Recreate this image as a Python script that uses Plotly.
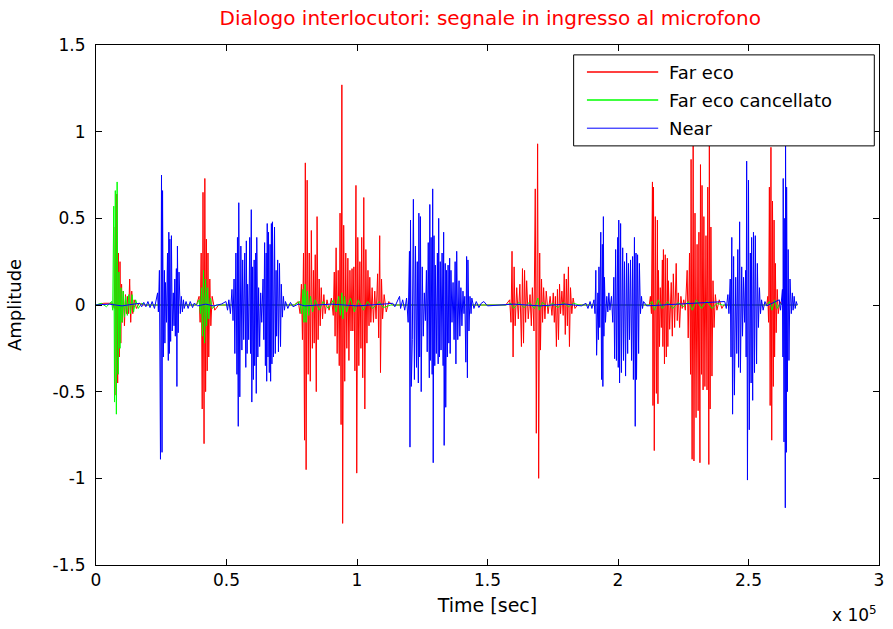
import numpy as np
import plotly.graph_objects as go

# ---------------- data (time in thousands of samples, amplitude) ----------------
far_t = [0, 3, 6.5, 7.0, 7.4, 7.7, 8.0, 8.3, 8.6, 8.9, 9.2, 9.5, 9.8, 10.1, 10.5, 10.9, 11.3, 11.7,
         12.1, 12.5, 12.9, 13.3, 13.7, 14.1, 14.6, 15.5, 16.5, 18,
         38.5, 39.5, 39.9, 40.3, 40.7, 41.0, 41.4, 41.7, 42.0, 42.3, 42.6, 42.9, 43.2, 43.6, 44.0, 44.5, 45.5, 47,
         76, 77.5, 78.2, 78.7, 79.1, 79.5, 79.9, 80.2, 80.5, 80.9, 81.3, 81.7, 82.1, 82.5, 82.9, 83.3, 83.6,
         84.0, 84.4, 84.7, 85.1, 85.5, 85.9, 86.3, 86.8, 87.3, 87.8, 88.5, 89.3, 90.2, 90.9, 91.3, 91.6, 92.0,
         92.4, 92.8, 93.2, 93.5, 93.9, 94.2, 94.5, 94.9, 95.3, 95.7, 96.1, 96.5, 96.9, 97.3, 97.7, 98.1, 98.4,
         98.8, 99.2, 99.6, 99.9, 100.3, 100.7, 101.1, 101.5, 101.8, 102.2, 102.6, 103.0, 103.4, 103.8, 104.2,
         104.6, 104.9, 105.3, 105.8, 106.3, 106.8, 107.3, 107.9, 108.3, 108.7, 109.0, 109.4, 109.8, 110.4,
         111.2, 112.2, 113.5,
         157, 158.5, 159, 159.4, 159.8, 160.2, 160.6, 161.2, 161.8, 162.4, 163, 163.4, 163.8, 164.2, 164.6,
         165, 165.6, 166.3, 166.8, 167.2, 167.8, 168.3, 168.7, 169.2, 169.6, 170.0, 170.3, 170.7, 171.1, 171.5,
         172.0, 172.5, 173.2, 174.0, 174.7, 175.2, 175.6, 176.0, 176.4, 176.8, 177.2, 177.6, 178.0, 178.5,
         179.0, 179.4, 179.8, 180.2, 180.6, 181.0, 181.4, 181.8, 182.3, 182.8, 183.5, 184.5,
         212.0, 212.4, 212.8, 213.2, 213.4, 213.6, 213.9, 214.3, 214.7, 215.1, 215.3, 215.5, 215.9, 216.2,
         216.6, 217.0, 217.2, 217.4, 217.8, 218.1, 218.5, 218.9, 219.1, 219.3, 219.8, 220.4, 220.8, 221.2,
         221.7, 222.3, 222.7, 223.1, 223.6, 224.1, 224.6, 225.2, 225.8, 226.5, 226.9, 227.4, 227.8, 228.0,
         228.4, 228.8, 229.1, 229.5, 229.9, 230.3, 230.7, 231.0, 231.4, 231.6, 232.0, 232.2, 232.6, 232.9,
         233.3, 233.7, 234.1, 234.4, 234.8, 235.0, 235.3, 235.6, 236.0, 236.4, 236.8, 237.3, 237.9, 238.8,
         239.8, 240.5,
         257.0, 257.4, 257.7, 258.0, 258.3, 258.6, 258.9, 259.2, 259.5, 259.8, 260.0, 260.3, 260.6, 261.0,
         261.4, 262.0, 263.0, 268.7]
far_a = [0, 0.01, 0.01, -0.02, 0.45, -0.52, 0.64, -0.45, 0.3, -0.3, 0.25, -0.22, 0.12, -0.1, 0.08, -0.12, 0.06, -0.05,
         0.05, -0.05, 0.15, -0.1, 0.08, -0.05, 0.03, -0.02, 0.01, 0,
         0, 0.05, -0.1, 0.3, -0.6, 0.65, -0.8, 0.73, -0.5, 0.38, -0.38, 0.3, -0.3, 0.15, -0.12, 0.05, -0.03, 0,
         0, 0.02, -0.05, 0.12, -0.2, 0.3, -0.78, 0.82, -0.95, 0.72, -0.4, 0.3, -0.44, 0.43, -0.25, 0.2, -0.22,
         0.29, -0.5, 0.51, -0.2, 0.15, -0.12, 0.1, -0.08, 0.06, -0.05, 0.03, -0.03, 0.04, -0.06, 0.19, -0.18, 0.33,
         -0.28, 0.2, -0.35, 0.53, -0.69, 1.27, -1.26, 0.46, -0.44, 0.3, -0.25, 0.27, -0.32, 0.2, -0.15, 0.21, -0.15,
         0.22, -0.38, 0.69, -0.97, 0.39, -0.35, 0.25, -0.25, 0.39, -0.42, 0.62, -0.6, 0.32, -0.22, 0.2,
         -0.12, 0.16, -0.1, 0.1, -0.1, 0.08, -0.08, 0.18, -0.19, 0.4, -0.39, 0.15, -0.08, 0.06,
         -0.04, 0.02, 0,
         0, 0.03, -0.1, 0.31, -0.3, 0.22, -0.12, 0.1, -0.08, 0.12, -0.24, 0.21, -0.22, 0.2, -0.1,
         0.14, -0.08, 0.06, -0.12, 0.1, -0.15, 0.67, -0.74, 0.93, -1.0, 0.3, -0.26, 0.15, -0.1, 0.1,
         -0.08, 0.08, -0.05, 0.05, -0.06, 0.07, -0.1, 0.05, -0.24, 0.09, -0.2, 0.12, -0.05, 0.08,
         -0.06, 0.18, -0.17, 0.15, -0.12, 0.22, -0.24, 0.1, -0.05, 0.04, -0.02, 0,
         0, 0.05, -0.05, 0.71, -0.58, 0.68, -0.84, 0.51, -0.51, 0.49, -0.57, 0.2, -0.24, 0.1,
         -0.13, 0.26, -0.24, 0.32, -0.34, 0.29, -0.3, 0.27, -0.24, 0.14, -0.14, 0.13, -0.18, 0.18,
         -0.13, 0.24, -0.09, 0.07, -0.13, 0.05, -0.02, 0.03, -0.03, 0.2, -0.19, 0.3, -0.4, 0.84,
         -0.89, 0.92, -0.9, 0.53, -0.65, 0.35, -0.61, 0.42, -0.91, 0.81, -0.4, 0.69, -0.49, 0.51,
         -0.47, 0.4, -0.49, 0.68, -0.92, 0.92, -0.6, 0.45, -0.41, 0.14, -0.13, 0.06, -0.03, 0.03,
         -0.02, 0,
         0, 0.05, -0.1, 0.68, -0.58, 0.91, -0.78, 0.6, -0.47, 0.49, -0.3, 0.24, -0.16, 0.09,
         -0.05, 0.02, 0, 0]

canc_t = [0, 2, 4, 6, 6.4, 6.8, 7.1, 7.4, 7.8, 8.1, 8.5, 8.8, 9.2, 9.6, 10.0, 10.4, 10.9, 11.4, 12, 12.6,
          13.2, 13.8, 14.4, 15.2, 16.2, 17.5, 19,
          38.5, 39.5, 40, 40.4, 40.8, 41.2, 41.6, 42, 42.4, 42.8, 43.2, 43.8, 44.5, 46,
          76, 78, 78.8, 79.3, 79.7, 80.1, 80.5, 81, 81.5, 82.2, 83, 84, 85.5, 87, 89, 91, 92, 93, 93.6, 94.2,
          94.6, 95.2, 96, 97.5, 99, 100.5, 102.5, 104, 106, 108.5, 110, 113,
          157, 159, 160, 162, 164, 166, 168, 169.3, 169.8, 171, 173, 175, 177, 179, 181, 183, 185,
          212, 213, 214, 215.5, 217, 219, 221, 223, 225, 227, 228.5, 230, 232, 234, 236, 238, 240,
          257, 258, 259, 260, 261, 262, 263, 268.7]
canc_a = [0, 0.01, -0.01, 0.02, -0.03, 0.57, -0.56, 0.66, -0.63, 0.71, -0.4, 0.19, -0.25, 0.1, -0.1, 0.08, -0.07,
          0.05, -0.06, 0.06, -0.05, 0.06, -0.04, 0.03, -0.02, 0.01, 0,
          0, 0.03, -0.05, 0.1, -0.18, 0.2, -0.22, 0.15, -0.12, 0.1, -0.08, 0.04, -0.02, 0,
          0, 0.02, -0.05, 0.09, -0.1, 0.12, -0.1, 0.08, -0.06, 0.05, -0.04, 0.03, -0.03, 0.02, -0.02, 0.03,
          -0.04, 0.05, -0.06, 0.07, -0.08, 0.05, -0.04, 0.04, -0.04, 0.03, -0.03, 0.02, -0.02, 0.02, -0.015, 0,
          0, 0.01, -0.02, 0.015, -0.015, 0.015, -0.02, 0.04, -0.03, 0.015, -0.01, 0.01, -0.015, 0.015, -0.01,
          0.01, 0,
          0, 0.02, -0.03, 0.03, -0.02, 0.02, -0.02, 0.015, -0.01, 0.02, -0.03, 0.03, -0.02, 0.025, -0.02,
          0.01, 0,
          0, 0.02, -0.03, 0.03, -0.02, 0.01, 0, 0]

near_t = [0, 5, 10, 15, 16.7, 17.5, 18.3, 19.1, 19.9, 20.7, 21.5, 22.4, 23.0, 23.6, 23.9, 24.3, 24.7, 25.1,
          25.3, 25.5, 25.8, 26.2, 26.4, 26.6, 27.0, 27.4, 27.7, 27.9, 28.1, 28.3, 28.6, 28.9, 29.2, 29.6,
          29.9, 30.2, 30.4, 30.8, 31.0, 31.2, 31.5, 31.8, 32.3, 32.7, 33.1, 33.5, 33.8, 34.5, 35.3, 36.1,
          37.0, 37.6, 39, 42, 45, 48,
          49.8, 50.4, 50.9, 51.5, 52.1, 52.5, 52.9, 53.2, 53.6, 54.0, 54.2, 54.5, 54.7, 55.1, 55.5, 55.9,
          56.2, 56.6, 57.0, 57.4, 57.6, 57.9, 58.1, 58.5, 58.9, 59.2, 59.5, 59.7, 60.0, 60.3, 60.6, 60.8,
          61.2, 61.4, 61.6, 62.0, 62.3, 62.7, 63.1, 63.5, 64.0, 64.3, 64.6, 64.9, 65.2, 65.4, 65.6, 65.9,
          66.1, 66.4, 66.7, 66.9, 67.2, 67.4, 67.6, 68.0, 68.4, 68.7, 69.0, 69.2, 69.6, 69.9, 70.3, 70.7,
          71.0, 71.4, 71.8, 72.2, 72.6, 73.5, 74.5, 75.5, 77.5, 80, 90, 100, 110,
          113.7, 114.5, 115.3, 116.3, 116.7, 117.5, 118.3, 119.0, 119.6, 120.1, 120.3, 120.5, 120.8, 121.2,
          121.6, 122.0, 122.4, 122.8, 123.1, 123.5, 123.7, 124.0, 124.3, 124.6, 125.0, 125.4, 125.8, 126.2,
          126.6, 126.9, 127.3, 127.7, 127.9, 128.1, 128.4, 128.8, 129.0, 129.2, 129.5, 129.8, 130.0, 130.4,
          130.8, 131.1, 131.3, 131.6, 131.9, 132.2, 132.6, 133.0, 133.2, 133.4, 133.8, 134.0, 134.3, 134.6,
          134.9, 135.2, 135.5, 135.7, 136.0, 136.4, 136.8, 137.2, 137.6, 137.9, 138.2, 138.6, 139.1, 139.4,
          139.8, 140.2, 140.6, 141.0, 141.3, 141.7, 142.0, 142.3, 142.5, 142.9, 143.3, 143.7, 144.0, 144.8,
          145.7, 146.7, 147.6, 148.6, 150, 160, 170, 180, 186,
          187.7, 188.5, 189.3, 190.0, 190.8, 191.2, 191.5, 191.8, 192.3, 192.5, 192.7, 193.0, 193.4, 193.7,
          194.0, 194.2, 194.4, 194.6, 194.8, 195.2, 195.7, 196.1, 196.5, 196.9, 197.5, 198.0, 198.4, 198.7,
          199.1, 199.4, 199.9, 200.1, 200.3, 200.6, 201.0, 201.3, 201.8, 202.1, 202.5, 202.9, 203.3, 203.7,
          204.0, 204.4, 204.8, 205.2, 205.6, 205.9, 206.3, 206.6, 206.9, 207.1, 207.5, 207.9, 208.2, 208.6,
          209.0, 209.4, 209.8, 211, 225, 240.9,
          241.5, 242.1, 242.5, 243.0, 243.3, 243.6, 243.9, 244.3, 244.6, 245.1, 245.5, 245.9, 246.2, 246.6,
          246.9, 247.4, 247.7, 248.1, 248.5, 248.9, 249.1, 249.3, 249.6, 250.0, 250.3, 250.7, 251.0, 251.2,
          251.6, 251.9, 252.3, 252.6, 253.1, 253.4, 253.8, 254.2, 254.6, 255.0, 255.6, 256.3, 257, 261.8,
          262.3, 263.0, 263.2, 263.3, 263.6, 263.9, 264.1, 264.2, 264.5, 264.6, 264.9, 265.2, 265.5, 265.9,
          266.4, 266.8, 267.1, 267.5, 267.9, 268.3, 268.7]
near_a = [0, 0.005, -0.005, 0.005, 0.01, -0.01, 0.015, -0.01, 0.02, -0.015, 0.02, -0.02, 0.03, 0.07, -0.04, 0.2,
          -0.89, 0.75, -0.85, 0.66, -0.3, 0.2, -0.22, 0.13, -0.1, 0.3, -0.32, 0.42, -0.28, 0.38, -0.21, 0.4,
          -0.15, 0.07, -0.12, 0.15, -0.18, 0.21, -0.47, 0.34, -0.16, 0.19, -0.05, 0.05, -0.04, 0.03, -0.02,
          0.02, -0.02, 0.02, -0.015, 0.01, -0.005, 0.005, -0.005, 0.005,
          0.02, -0.03, 0.03, -0.05, 0.09, -0.09, 0.15, -0.28, 0.3, -0.4, 0.39, -0.7, 0.59, -0.53, 0.34, -0.26,
          0.26, -0.2, 0.3, -0.36, 0.37, -0.28, 0.12, -0.2, 0.39, -0.28, 0.55, -0.56, 0.22, -0.43, 0.26, -0.35,
          0.3, -0.51, 0.39, -0.3, 0.1, -0.24, 0.07, -0.1, 0.15, -0.2, 0.36, -0.35, 0.3, -0.44, 0.47, -0.3,
          0.42, -0.39, 0.35, -0.44, 0.47, -0.34, 0.48, -0.3, 0.45, -0.28, 0.2, -0.18, 0.26, -0.27, 0.24, -0.24,
          0.12, -0.07, 0.05, -0.03, 0.02, -0.02, 0.015, -0.01, 0.005, -0.005, 0.005, -0.005, 0.005,
          0.01, -0.01, 0.02, 0.05, -0.02, 0.03, -0.03, 0.04, -0.1, 0.31, -0.82, 0.49, -0.47, -0.2,
          0.61, -0.43, 0.34, -0.36, 0.25, -0.45, 0.53, -0.3, 0.51, -0.5, 0.22, -0.18, 0.07, -0.09,
          0.2, -0.27, 0.36, -0.42, 0.58, -0.32, 0.39, -0.4, 0.67, -0.91, 0.4, -0.35, 0.23, -0.28,
          0.3, -0.34, 0.5, -0.3, 0.25, -0.26, 0.3, -0.35, 0.42, -0.81, 0.24, -0.59, 0.2, -0.3,
          0.23, -0.22, 0.27, -0.28, 0.2, -0.1, 0.13, -0.2, 0.25, -0.34, 0.31, -0.2, 0.14, -0.18,
          0.1, -0.12, 0.08, -0.05, 0.05, -0.33, 0.28, -0.42, 0.26, -0.15, 0.05, -0.05, 0.04, -0.02,
          0.02, -0.015, 0.01, 0.02, -0.005, 0.005, -0.005, 0.005, -0.005,
          0.01, -0.02, 0.02, -0.02, 0.03, -0.05, 0.2, -0.29, 0.07, -0.2, 0.22, -0.13, 0.42, -0.43,
          0.35, -0.47, 0.51, -0.18, 0.16, -0.1, 0.05, -0.04, 0.07, -0.03, 0.05, -0.1, 0.16, -0.31,
          0.32, -0.32, 0.39, -0.36, 0.49, -0.45, 0.47, -0.39, 0.33, -0.32, 0.25, -0.41, 0.3, -0.28,
          0.24, -0.2, 0.26, -0.32, 0.28, -0.43, 0.39, -0.7, 0.3, -0.43, 0.29, -0.28, 0.24, -0.05,
          0.05, -0.02, 0.02, -0.005, 0.005, 0.02,
          -0.02, 0.06, -0.05, 0.15, -0.3, 0.39, -0.63, 0.28, -0.52, 0.16, -0.28, 0.32, -0.36, 0.48,
          -0.39, 0.22, -0.18, 0.16, -0.1, 0.2, -0.3, 0.83, -1.01, 0.72, -0.72, 0.3, -0.45, 0.39,
          -0.55, 0.42, -0.39, 0.4, -0.34, 0.24, -0.13, 0.1, -0.05, 0.03, -0.03, 0.02, -0.005, 0.03,
          -0.03, 0.09, -0.3, 0.73, -0.79, 0.5, -1.17, 0.95, -0.85, 0.68, -0.5, 0.32, -0.32, 0.15,
          -0.05, 0.07, -0.03, 0.05, -0.02, 0.02, 0]

series_names = ["Far eco", "Far eco cancellato", "Near"]
series_colors = ["#ff0000", "#00ff00", "#0000ff"]
x_tick_vals = [0, 50000, 100000, 150000, 200000, 250000, 300000]
x_tick_text = ["0", "0.5", "1", "1.5", "2", "2.5", "3"]
y_tick_vals = [-1.5, -1, -0.5, 0, 0.5, 1, 1.5]
y_tick_text = ["-1.5", "-1", "-0.5", "0", "0.5", "1", "1.5"]

FONT = "DejaVu Sans"

fig = go.Figure()
for name, col, tt, aa in zip(series_names, series_colors,
                             [far_t, canc_t, near_t], [far_a, canc_a, near_a]):
    fig.add_trace(go.Scatter(x=np.array(tt) * 1000.0, y=aa, mode="lines", name=name,
                             line=dict(color=col, width=1), showlegend=False,
                             hoverinfo="skip"))

# MATLAB-style legend box (drawn in paper coordinates)
lx0, lx1, ly0, ly1 = 0.610, 0.994, 0.806, 0.981
shapes = [dict(type="rect", xref="paper", yref="paper", x0=lx0, x1=lx1, y0=ly0, y1=ly1,
               line=dict(color="black", width=1), fillcolor="white", layer="above")]
annots = []
row_y = [0.948, 0.894, 0.840]
for name, col, yy in zip(series_names, series_colors, row_y):
    shapes.append(dict(type="line", xref="paper", yref="paper", x0=0.627, x1=0.718, y0=yy, y1=yy,
                       line=dict(color=col, width=1.5 if col != "#0000ff" else 1), layer="above"))
    annots.append(dict(xref="paper", yref="paper", x=0.7297, y=yy, text=name, showarrow=False,
                       xanchor="left", yanchor="middle", font=dict(family=FONT, size=18, color="black")))

annots.append(dict(xref="paper", yref="paper", x=1.0, y=-0.094, text="x 10<sup>5</sup>",
                   showarrow=False, xanchor="right", yanchor="middle",
                   font=dict(family=FONT, size=17, color="black")))

axis_common = dict(showline=True, linecolor="black", linewidth=1, mirror="ticks",
                   ticks="inside", ticklen=6, tickcolor="black", showgrid=False, zeroline=False,
                   tickfont=dict(family=FONT, size=17, color="black"))

fig.update_layout(
    width=893, height=629,
    margin=dict(l=96, r=9, t=45, b=64),
    paper_bgcolor="white", plot_bgcolor="white",
    title=dict(text="Dialogo interlocutori: segnale in ingresso al microfono",
               x=0.549, xanchor="center", y=0.971, yanchor="middle",
               font=dict(family=FONT, size=20, color="#ff0000")),
    xaxis=dict(range=[0, 300000], tickvals=x_tick_vals, ticktext=x_tick_text,
               title=dict(text="Time [sec]", font=dict(family=FONT, size=19, color="black"), standoff=9),
               **axis_common),
    yaxis=dict(range=[-1.5, 1.5], tickvals=y_tick_vals, ticktext=y_tick_text, ticklabelstandoff=6,
               title=dict(text="Amplitude", font=dict(family=FONT, size=18, color="black"), standoff=26),
               **axis_common),
    shapes=shapes, annotations=annots, showlegend=False,
)

fig.write_html("out.html")
